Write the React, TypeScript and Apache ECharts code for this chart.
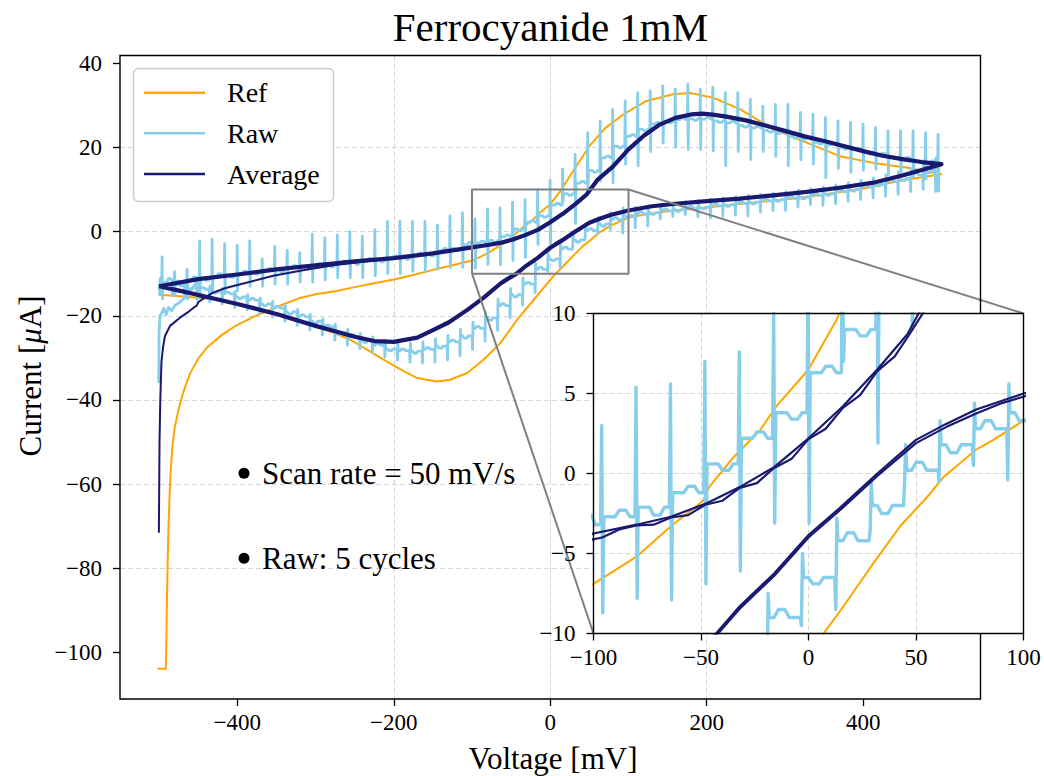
import React, { useEffect, useRef } from 'react';
import * as echarts from 'echarts';

// ---------------- data ----------------
const TITLE = 'Ferrocyanide 1mM';
const X_TICKS = [-400, -200, 0, 200, 400];
const Y_TICKS = [-100, -80, -60, -40, -20, 0, 20, 40];
const X_RANGE = [-550, 550];
const Y_RANGE = [-111, 41.8];
const INSET_X = [-100, 100];
const INSET_Y = [-10, 10];
const INSET_X_TICKS = [-100, -50, 0, 50, 100];
const INSET_Y_TICKS = [-10, -5, 0, 5, 10];
const NOTES = ['Scan rate = 50 mV/s', 'Raw: 5 cycles'];
const LEGEND = ['Ref', 'Raw', 'Average'];

// Reference CV (single cycle, with start-up transient)
const refCurve = [
  [-502, -103.8], [-491.5, -103.8], [-490.8, -98], [-490, -88], [-489, -78], [-488, -70], [-486.5, -62],
  [-485, -56], [-483, -51], [-480, -46.5], [-476, -43], [-472, -40], [-467, -37], [-460, -33.5],
  [-450, -30.2], [-438, -27.4], [-420, -24.6], [-404, -22.6], [-380, -20.3], [-362, -18.9], [-340, -17.2],
  [-319, -15.7], [-300, -14.9], [-273, -14.1], [-250, -13.2], [-225, -12.3], [-200, -11.4], [-175, -10.3],
  [-150, -9.1], [-125, -8.0], [-100, -6.9], [-80, -5.2], [-64, -3.3], [-49, -1.7], [-46, -0.8], [-35, 1.0],
  [-22.5, 2.7], [-15, 4.2], [0, 6.5], [13, 9.6], [30, 14.6], [51, 20.5], [70, 24.5], [94, 27.9],
  [123, 31.0], [157, 32.6], [179, 32.9], [208, 31.8], [243, 29.0], [285, 24.3], [328, 21.1], [370, 17.9],
  [413, 16.3], [455, 15.2], [500, 13.6],
  [480, 13.0], [450, 12.2], [400, 10.2], [350, 8.8], [300, 7.6], [250, 6.7], [200, 5.7], [150, 4.8],
  [120, 4.0], [100, 3.3], [86, 2.1], [78, 1.5], [63, -0.2], [55, -1.5], [42.6, -3.3], [30.2, -5.6],
  [16.3, -8.3], [7, -10], [0, -11.5], [-21, -16.2], [-42.6, -21], [-63.8, -26.5], [-85, -30.4],
  [-106, -33.6], [-128, -35.2], [-145, -35.6], [-170, -34.8], [-191, -32.8], [-213, -30.4], [-255, -25.7],
  [-298, -22.5], [-340, -20.2], [-383, -17.8], [-425, -16.2], [-468, -15.4], [-500, -15.0],
];

// Average: steady loop and first-scan transient
const avgLoop = [
  [-500, -13.0], [-450, -11.3], [-400, -10.2], [-350, -9.0], [-300, -8.0], [-250, -7.1], [-200, -6.3],
  [-150, -5.2], [-100, -3.75], [-80, -3.2], [-64, -2.7], [-48, -1.9], [-32, -0.85], [-16, 0.4], [0, 2.2],
  [16, 4.2], [32, 6.5], [46, 8.7], [60, 12.2], [80, 15.4], [100, 19.5], [120, 22.8], [140, 25.4],
  [160, 27.0], [180, 27.8], [195, 28.0], [210, 27.7], [225, 27.3], [250, 26.4], [275, 25.2], [300, 23.9],
  [325, 22.6], [350, 21.5], [375, 20.3], [400, 19.1], [425, 18.0], [450, 17.2], [475, 16.5], [500, 16.0],
  [475, 14.6], [450, 13.3], [413, 11.6], [370, 10.4], [328, 9.4], [285, 8.6], [242, 7.8], [200, 7.2],
  [160, 6.6], [130, 6.0], [100, 5.0], [78, 4.0], [64, 3.1], [50, 2.1], [32, 0.0], [15, -2.1], [0, -3.85],
  [-16, -6.25], [-32, -8.3], [-43, -10], [-55, -11.3], [-64, -12.4], [-85, -15.7], [-106, -18.6],
  [-130, -21.6], [-150, -23.4], [-170, -25.2], [-200, -26.2], [-225, -26.0], [-250, -25.0], [-275, -23.7],
  [-300, -22.4], [-350, -19.6], [-400, -17.2], [-440, -15.5], [-470, -14.2], [-500, -13.0],
];
// second averaged strand, visible separately only in the zoomed inset
const avgStrandFwd = [
  [-110, -4.4], [-96, -4.0], [-88, -3.5], [-80, -3.25], [-72, -3.2], [-64, -2.75], [-56, -2.6], [-48, -1.95],
  [-40, -1.7], [-32, -0.9], [-24, -0.6], [-16, 0.35], [-8, 0.9], [0, 2.15], [8, 2.8], [16, 4.1], [24, 4.9],
  [32, 6.4], [40, 7.3], [46, 8.5], [55, 10.4], [65, 12.6],
];
const avgStrandRev = [
  [110, 5.3], [100, 4.8], [90, 4.4], [78, 3.75], [64, 2.9], [50, 1.9], [32, -0.15], [15, -2.25], [0, -4.0],
  [-16, -6.4], [-32, -8.45], [-43, -10.15], [-50, -11.2],
];
const avgStart = [
  [-500.3, -71.5], [-499.5, -50], [-498.5, -40], [-497, -31], [-495, -27.5], [-492.5, -24.8], [-486, -22.4],
  [-473, -20.4], [-462, -19], [-454, -17.8], [-452, -17.6], [-450, -16.8], [-444, -16.0], [-431, -14.5],
  [-415, -13.4], [-396, -12.5], [-354, -10.5], [-311, -9.0], [-277, -8.0], [-240, -7.2], [-200, -6.4],
];

// Raw: forward sweep, spikes every 16 mV (level after spike, spike top, spike bottom)
const fwdV = [-496, -480, -464, -448, -432, -416, -400, -384, -368, -352, -336, -320, -304, -288, -272, -256,
  -240, -224, -208, -192, -176, -160, -144, -128, -112, -96, -80, -64, -48, -32, -16, 0, 16, 32, 48, 64, 80,
  96, 112, 128, 144, 160, 176, 192, 208, 224, 240, 256, 272, 288, 304, 320, 336, 352, 368, 384, 400, 416,
  432, 448, 464, 480, 496];
const fwdBase = [-12.0, -11.8, -11.4, -11.0, -10.6, -10.3, -10.0, -9.6, -9.3, -9.0, -8.7, -8.4, -8.1, -7.8,
  -7.5, -7.2, -6.9, -6.6, -6.3, -6.0, -5.6, -5.2, -4.6, -4.0, -3.2, -2.7, -2.1, -1.2, 0.6, 2.2, 3.8, 6.3, 9.0,
  11.5, 14.5, 17.5, 20.3, 22.6, 24.3, 25.5, 26.2, 26.6, 26.8, 26.7, 26.3, 25.8, 25.2, 24.6, 24.0, 23.3, 22.6,
  21.9, 21.2, 20.6, 20.0, 19.4, 18.8, 18.2, 17.7, 17.2, 16.8, 16.4, 16.1];
// a second level inside each step (the trace wanders between spikes)
const fwdMid = [-11.2, -12.4, -10.8, -11.6, -10.0, -10.9, -9.4, -10.1, -8.8, -9.6, -8.1, -9.0, -7.6, -8.4,
  -7.0, -7.8, -6.4, -7.2, -5.8, -6.6, -5.1, -5.8, -4.0, -4.6, -2.6, -2.3, -2.6, -0.8, 0.2, 2.6, 3.4, 6.7, 8.6,
  11.9, 14.1, 17.9, 19.9, 23.0, 23.9, 25.9, 25.8, 27.0, 26.4, 27.1, 25.9, 26.2, 24.8, 25.0, 23.6, 23.7, 22.2,
  22.3, 20.8, 21.0, 19.6, 19.8, 18.4, 18.6, 17.3, 17.6, 16.4, 16.8, 15.8];
const fwdUp = [-6.0, -9.5, -9.0, -2.2, -1.8, -2.9, -3.3, -2.2, -6.5, -3.5, -4.5, -5.0, -0.6, -1.5, -0.8, 0.0,
  -1.1, 0.4, 2.4, 2.4, 2.4, 2.4, 1.6, 3.7, 4.5, 3.0, 5.4, 5.6, 7.0, 7.6, 10.0, 12.2, 14.8, 18.3, 23.5, 26.3,
  29.0, 31.0, 33.0, 33.4, 34.6, 33.8, 35.0, 33.8, 34.2, 33.0, 33.0, 31.4, 29.8, 30.2, 30.2, 28.3, 27.9, 27.1,
  26.3, 25.9, 25.5, 24.7, 23.9, 23.9, 23.9, 23.5, 23.1];
const fwdDown = [-16.0, -15.0, -16.0, -15.0, -14.5, -14.0, -14.0, -13.0, -13.0, -12.5, -12.5, -12.0, -12.0,
  -11.5, -11.0, -11.0, -11.0, -10.5, -10.0, -10.0, -9.5, -9.5, -9.0, -8.5, -8.5, -8.7, -7.8, -7.9, -6.9, -6.1,
  -3.1, -3.1, 7.0, 1.9, 9.0, 12.0, 11.6, 16.0, 15.6, 19.0, 21.0, 20.0, 19.5, 19.5, 19.1, 15.6, 19.0, 17.1,
  19.0, 17.9, 15.6, 17.0, 16.0, 12.8, 15.0, 14.0, 14.5, 14.8, 13.5, 13.5, 13.0, 12.5, 9.6];

// Raw: reverse sweep
const revV = [493, 477, 461, 445, 429, 413, 397, 381, 365, 349, 333, 317, 301, 285, 269, 253, 237, 221, 205,
  189, 173, 157, 141, 125, 109, 93, 77, 61, 45, 29, 13, -3, -19, -35, -51, -67, -83, -99, -115, -131, -147,
  -163, -179, -195, -211, -227, -243, -259, -275, -291, -307, -323, -339, -355, -371, -387, -403, -419, -435,
  -451, -467, -483, -499];
const revBase = [14.5, 13.4, 12.6, 11.9, 11.2, 10.6, 10.0, 9.5, 9.0, 8.6, 8.2, 7.9, 7.6, 7.3, 7.0, 6.7, 6.4,
  6.1, 5.8, 5.5, 5.2, 4.9, 4.5, 4.2, 3.8, 2.8, 1.8, 0.2, -2.0, -4.2, -6.5, -9.0, -12.5, -15.0, -17.6, -20.5,
  -23.0, -24.8, -26.2, -27.2, -28.0, -28.4, -28.3, -27.9, -27.0, -25.8, -24.9, -24.0, -22.6, -21.3, -20.2,
  -19.1, -18.2, -17.2, -16.3, -15.5, -14.8, -14.2, -13.7, -13.3, -12.9, -12.6, -12.3];
const revMid = [14.0, 13.9, 12.1, 12.4, 10.8, 11.1, 9.6, 9.9, 8.6, 9.1, 7.8, 8.4, 7.2, 7.8, 6.6, 7.2, 6.0,
  6.6, 5.4, 6.0, 4.8, 5.4, 4.1, 4.7, 3.3, 3.3, 1.3, 0.7, -2.5, -3.7, -6.9, -8.5, -12.1, -15.5, -17.1, -21.0,
  -22.5, -25.3, -25.8, -27.7, -27.6, -28.9, -27.9, -28.3, -26.6, -26.3, -24.5, -24.5, -22.2, -21.8, -19.8,
  -19.6, -17.8, -17.6, -15.9, -15.9, -14.4, -14.6, -13.3, -13.7, -12.5, -13.0, -12.0];
const revUp = [17.5, 16.0, 15.0, 14.2, 13.5, 12.8, 12.2, 11.6, 11.1, 10.6, 10.2, 9.8, 9.5, 9.2, 8.9, 8.6, 8.3,
  8.0, 7.7, 7.4, 7.1, 6.8, 6.5, 6.1, 5.8, 5.6, 4.4, 3.3, 1.8, -0.5, -2.8, -5.0, -7.5, -11.0, -13.5, -16.0,
  -19.0, -21.5, -23.2, -24.6, -25.5, -26.2, -26.5, -26.3, -25.8, -25.0, -24.2, -23.2, -22.0, -20.8, -19.6,
  -18.5, -17.5, -16.6, -15.8, -15.0, -14.2, -13.5, -12.9, -12.3, -11.9, -11.5, -11.2];
const revDown = [9.5, 10.0, 9.5, 8.8, 8.4, 8.0, 7.6, 7.2, 6.6, 6.2, 6.4, 5.8, 5.0, 5.0, 4.6, 3.7, 3.9, 3.6,
  3.2, 3.5, 4.0, 3.6, 3.0, 1.3, 0.9, -0.4, 0.5, -0.5, -0.5, -3.5, -8.5, -9.5, -14.5, -17.5, -20.5, -23.5,
  -26.0, -28.0, -29.5, -30.5, -31.0, -31.2, -31.0, -30.5, -29.8, -28.8, -27.8, -27.0, -25.8, -24.6, -23.4,
  -22.3, -21.3, -20.3, -19.5, -18.6, -18.0, -17.2, -16.7, -16.2, -15.8, -15.3, -15.0];
const rawStartLevel = -12.2;
const rawTurnLevel = 16.1;
const rawEndLevel = -12.3;
// first cycle start-up of the raw signal
const rawStart = [
  [-500.5, -36], [-500, -24], [-499, -20], [-497, -19.5], [-494, -18.2], [-491, -19.8], [-488, -18.0],
  [-484, -18.8], [-480, -17.6], [-475, -17.0], [-470, -16.2], [-465, -15.0], [-460, -14.0], [-455, -12.8],
  [-450, -11.5],
];

// ---------------- styling ----------------
const FONT = 'Liberation Serif';
const C_REF = '#FFA500';
const C_RAW = '#87CEEB';
const C_AVG = '#191970';
const C_BOX = '#808080';
const MAIN = { left: 120, top: 55.5, width: 860.5, height: 643.5 };
const INSET = { left: 593.5, top: 313.5, width: 430, height: 320 };

function buildRaw() {
  const pts: number[][] = [[X_RANGE[0] + 50, rawStartLevel]];
  let prev = rawStartLevel;
  for (let i = 0; i < fwdV.length; i++) {
    const v = fwdV[i];
    pts.push([v - 0.7, prev]);
    pts.push([v - 0.2, fwdUp[i]]);
    pts.push([v + 0.3, fwdDown[i]]);
    pts.push([v + 0.8, fwdBase[i]]);
    if (v + 13 < X_RANGE[1] - 50) {
      pts.push([v + 6, fwdBase[i]]);
      pts.push([v + 8, fwdMid[i]]);
      pts.push([v + 11, fwdMid[i]]);
      pts.push([v + 13, fwdBase[i]]);
    }
    prev = fwdBase[i];
  }
  pts.push([X_RANGE[1] - 50, rawTurnLevel]);
  prev = rawTurnLevel;
  for (let i = 0; i < revV.length; i++) {
    const v = revV[i];
    pts.push([v + 0.7, prev]);
    pts.push([v + 0.2, revUp[i]]);
    pts.push([v - 0.3, revDown[i]]);
    pts.push([v - 0.8, revBase[i]]);
    if (v - 13 > X_RANGE[0] + 50) {
      pts.push([v - 6, revBase[i]]);
      pts.push([v - 8, revMid[i]]);
      pts.push([v - 11, revMid[i]]);
      pts.push([v - 13, revBase[i]]);
    }
    prev = revBase[i];
  }
  pts.push([X_RANGE[0] + 50, rawEndLevel]);
  return pts;
}

const minus = (v: number) => (v < 0 ? '\u2212' + Math.abs(v) : String(v));

function lineSeries(name: string, data: any, color: string, width: number, z: number, inset = false) {
  return {
    name,
    type: 'line',
    data,
    xAxisIndex: inset ? 1 : 0,
    yAxisIndex: inset ? 1 : 0,
    showSymbol: false,
    symbol: 'none',
    smooth: false,
    clip: true,
    silent: true,
    z,
    lineStyle: { color, width, join: 'round', cap: 'butt' },
    emphasis: { disabled: true },
    animation: false,
  };
}

function axisCommon(ticks: number[], fontSize: number, margin: number, z: number) {
  return {
    type: 'value',
    z,
    axisLine: { show: false, onZero: false },
    axisTick: { show: true, inside: false, length: 7, lineStyle: { color: '#000', width: 1.3 }, customValues: ticks },
    axisLabel: {
      show: true, customValues: ticks, formatter: minus, margin,
      fontFamily: FONT, fontSize, color: '#000', showMinLabel: true, showMaxLabel: true,
    },
    splitLine: { show: true, showMinLine: false, showMaxLine: false, lineStyle: { color: '#d4d4d4', width: 1, type: [5, 3] } },
  };
}

function buildOption() {
  const raw = buildRaw();
  const boxPts = [
    [INSET_X[0], INSET_Y[0]], [INSET_X[1], INSET_Y[0]], [INSET_X[1], INSET_Y[1]],
    [INSET_X[0], INSET_Y[1]], [INSET_X[0], INSET_Y[0]],
  ];
  return {
    animation: false,
    backgroundColor: '#ffffff',
    textStyle: { fontFamily: FONT },
    grid: [
      { ...MAIN, show: false, containLabel: false, outerBoundsMode: 'none' },
      { ...INSET, show: true, borderWidth: 0, backgroundColor: '#ffffff', z: 10, containLabel: false, outerBoundsMode: 'none' },
    ],
    xAxis: [
      { ...axisCommon(X_TICKS, 23, 12, 0), gridIndex: 0, min: X_RANGE[0], max: X_RANGE[1], position: 'bottom' },
      { ...axisCommon(INSET_X_TICKS, 23, 12, 10), gridIndex: 1, min: INSET_X[0], max: INSET_X[1], interval: 50, position: 'bottom' },
    ],
    yAxis: [
      { ...axisCommon(Y_TICKS, 23, 18, 0), gridIndex: 0, min: Y_RANGE[0], max: Y_RANGE[1], position: 'left' },
      { ...axisCommon(INSET_Y_TICKS, 23, 18, 10), gridIndex: 1, min: INSET_Y[0], max: INSET_Y[1], interval: 5, position: 'left' },
    ],
    series: [
      lineSeries('Ref', refCurve, C_REF, 2, 2),
      lineSeries('Raw', raw, C_RAW, 2.8, 3),
      lineSeries('Raw', rawStart, C_RAW, 2.8, 3),
      lineSeries('Average', avgStart, C_AVG, 2, 4),
      lineSeries('Average', avgLoop, C_AVG, 4.2, 4),
      lineSeries('box', boxPts, C_BOX, 2, 5),
      lineSeries('Ref', refCurve, C_REF, 2, 11, true),
      lineSeries('Raw', raw, C_RAW, 3.4, 12, true),
      lineSeries('Average', avgLoop, C_AVG, 2.2, 13, true),
      lineSeries('Average', avgStrandFwd, C_AVG, 2.2, 13, true),
      lineSeries('Average', avgStrandRev, C_AVG, 2.2, 13, true),
    ],
  };
}

export default function App() {
  const ref = useRef<HTMLDivElement>(null);
  useEffect(() => {
    const el = ref.current!;
    const chart = echarts.init(el, null, { renderer: 'svg', width: 1044, height: 776 });
    chart.setOption(buildOption() as any);

    const a = chart.convertToPixel({ gridIndex: 0 } as any, [INSET_X[0], INSET_Y[0]]) as number[];
    const b = chart.convertToPixel({ gridIndex: 0 } as any, [INSET_X[1], INSET_Y[1]]) as number[];
    const c = chart.convertToPixel({ gridIndex: 1 } as any, [INSET_X[0], INSET_Y[0]]) as number[];
    const d = chart.convertToPixel({ gridIndex: 1 } as any, [INSET_X[1], INSET_Y[1]]) as number[];

    const txt = (x: number, y: number, text: string, size: number, align = 'left') => ({
      type: 'text', x, y, z: 30, silent: true,
      style: { text, fontFamily: FONT, fontSize: size, fill: '#000', align, verticalAlign: 'middle' },
    });

    const lx = 133.5, ly = 68.5;
    const legendRows = [
      { name: LEGEND[0], color: C_REF, y: 92.7 },
      { name: LEGEND[1], color: C_RAW, y: 133.3 },
      { name: LEGEND[2], color: C_AVG, y: 174 },
    ];

    const frame = (g: any, z: number) => ({
      type: 'rect', z, silent: true,
      shape: { x: g.left, y: g.top, width: g.width, height: g.height },
      style: { fill: 'none', stroke: '#000', lineWidth: 1.4 },
    });

    const elements: any[] = [
      frame(MAIN, 8),
      frame(INSET, 15),
      { type: 'line', z: 6, silent: true, shape: { x1: a[0], y1: a[1], x2: c[0], y2: c[1] }, style: { stroke: C_BOX, lineWidth: 2 } },
      { type: 'line', z: 6, silent: true, shape: { x1: b[0], y1: b[1], x2: d[0], y2: d[1] }, style: { stroke: C_BOX, lineWidth: 2 } },
      txt(550.5, 27, TITLE, 41, 'center'),
      txt(553, 758, 'Voltage [mV]', 31, 'center'),
      {
        type: 'text', x: 30, y: 376, rotation: Math.PI / 2, z: 30, silent: true,
        style: {
          text: '{a|Current [}{b|\u03bc}{a|A]}', align: 'center', verticalAlign: 'middle', fill: '#000',
          fontFamily: FONT, fontSize: 31,
          rich: {
            a: { fontFamily: FONT, fontSize: 31, fill: '#000' },
            b: { fontFamily: FONT, fontSize: 31, fontStyle: 'italic', fill: '#000' },
          },
        },
      },
      { type: 'rect', z: 20, silent: true, shape: { x: lx, y: ly, width: 200, height: 133, r: 5 }, style: { fill: 'rgba(255,255,255,0.85)', stroke: '#cccccc', lineWidth: 1.5 } },
      ...legendRows.map((r) => ({ type: 'line', z: 21, silent: true, shape: { x1: 144, y1: r.y, x2: 205, y2: r.y }, style: { stroke: r.color, lineWidth: 2.5 } })),
      ...legendRows.map((r) => txt(227, r.y, r.name, 28)),
      { type: 'circle', z: 30, silent: true, shape: { cx: 244, cy: 473.3, r: 5.5 }, style: { fill: '#000' } },
      txt(262, 473, NOTES[0], 31),
      { type: 'circle', z: 30, silent: true, shape: { cx: 244, cy: 558.3, r: 5.5 }, style: { fill: '#000' } },
      txt(262, 558, NOTES[1], 31),
    ];
    chart.setOption({ graphic: { elements } } as any);
    return () => chart.dispose();
  }, []);
  return (
    <div
      ref={ref}
      style={{ position: 'absolute', left: 0, top: 0, width: 1044, height: 776, background: '#ffffff' }}
    />
  );
}
